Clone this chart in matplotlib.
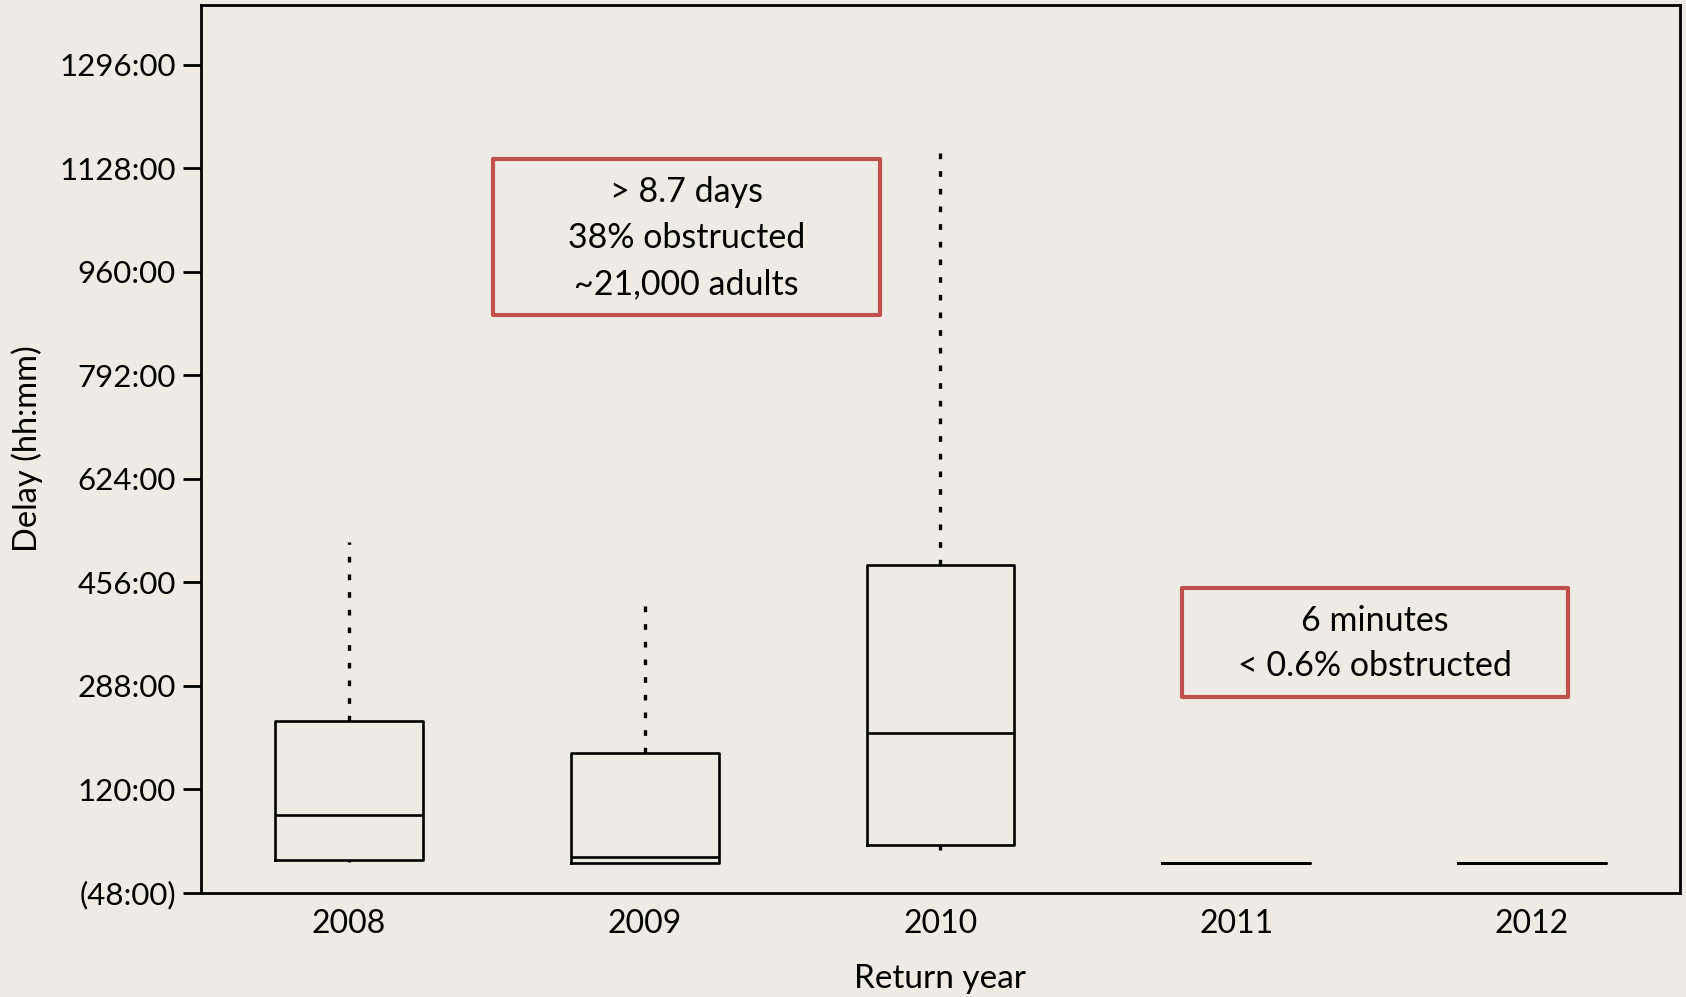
import matplotlib
matplotlib.use("Agg")
import matplotlib.pyplot as plt
from matplotlib.patches import Rectangle
from matplotlib.ticker import FixedLocator, FuncFormatter

# ---- data (hours) ----
years = ["2008", "2009", "2010", "2011", "2012"]
whislo = [1.5, 0.5, 21, 0.1, 0.1]
q1 = [5, 0.5, 29, 0.1, 0.1]
med = [78, 10, 212, 0.1, 0.1]
q3 = [230, 178, 484, 0.1, 0.1]
whishi = [522, 418, 1158, 0.1, 0.1]
yticks = [-48, 120, 288, 456, 624, 792, 960, 1128, 1296]

note1 = "> 8.7 days\n38% obstructed\n~21,000 adults"
note2 = "6 minutes\n< 0.6% obstructed"

BG = "#eeebe5"
RED = "#c0504d"
FONT = ["Lato", "DejaVu Sans"]

plt.rcParams["font.family"] = FONT

fig = plt.figure(figsize=(16.86, 9.97), dpi=100, facecolor=BG)
ax = fig.add_axes([0.1192, 0.1046, 0.9964 - 0.1192, 0.9945 - 0.1046])
ax.set_facecolor(BG)

stats = []
for i, y in enumerate(years):
    stats.append(dict(label=y, whislo=whislo[i], q1=q1[i], med=med[i],
                      q3=q3[i], whishi=whishi[i], fliers=[]))

ax.bxp(stats, positions=range(len(years)), widths=0.5, showcaps=False,
       showfliers=False,
       boxprops=dict(color="black", linewidth=1.9),
       medianprops=dict(color="black", linewidth=1.9),
       whiskerprops=dict(color="black", linewidth=2.4, linestyle=(0, (1.7, 3.6))))

ax.set_xlim(-0.5, len(years) - 0.5)
ax.set_ylim(-48, 1392)

ax.yaxis.set_major_locator(FixedLocator(yticks))


def fmt(v, pos):
    v = int(round(v))
    if v < 0:
        return "(%d:00)" % (-v)
    return "%d:00" % v


ax.yaxis.set_major_formatter(FuncFormatter(fmt))
ax.set_xticks(range(len(years)))
ax.set_xticklabels(years)

ax.tick_params(axis="y", length=13, width=2, pad=5, labelsize=22.5, color="black")
ax.tick_params(axis="x", length=0, pad=12, labelsize=23)

for s in ax.spines.values():
    s.set_linewidth(2)
    s.set_color("black")

ax.set_ylabel("Delay (hh:mm)", fontsize=23.5, labelpad=12)
ax.set_xlabel("Return year", fontsize=24, labelpad=18)

# annotation boxes
ax.add_patch(Rectangle((0.488, 890), 1.795 - 0.488, 1143 - 890, fill=False,
                       edgecolor=RED, linewidth=3, joinstyle="round", zorder=5))
ax.text(1.142, 1014, note1, ha="center", va="center", fontsize=24.5,
        linespacing=1.55, zorder=6)

ax.add_patch(Rectangle((2.815, 269), 4.122 - 2.815, 447 - 269, fill=False,
                       edgecolor=RED, linewidth=3, joinstyle="round", zorder=5))
ax.text(3.469, 357, note2, ha="center", va="center", fontsize=24.5,
        linespacing=1.5, zorder=6)

fig.savefig("out.png", dpi=100, facecolor=BG)
